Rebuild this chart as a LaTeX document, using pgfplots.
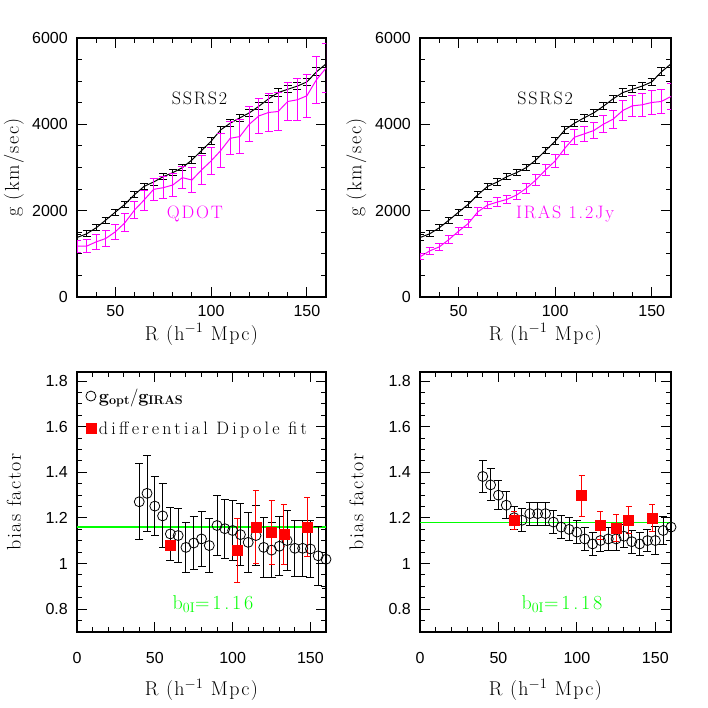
\documentclass[border=0pt]{standalone}
\usepackage{fontspec}
\setmainfont{Latin Modern Roman}
\usepackage{pgfplots}
\usepackage{pgfplotstable}
\pgfplotsset{compat=1.18}
\definecolor{pmag}{rgb}{1,0,1}
\definecolor{pgreen}{rgb}{0,1,0}
\definecolor{pred}{rgb}{1,0,0}
\newfontfamily\tickfont{Liberation Sans}
\newcommand{\tf}{\tickfont\fontsize{16}{18}\selectfont}
\newcommand{\hf}{\fontsize{18}{21}\selectfont\addfontfeatures{LetterSpace=10}}
\newcommand{\legf}{\fontsize{18}{21}\selectfont}
\newcommand{\bfit}{\fontsize{20}{23}\selectfont\addfontfeatures{LetterSpace=14}}
\newcommand{\lf}{\fontsize{20}{23}\selectfont\addfontfeatures{LetterSpace=7}}

% R  g  err
\pgfplotstableread{
30 1378 70
35 1463 70
40 1603 70
45 1781 70
50 1966 70
55 2148 72
60 2369 72
65 2562 72
70 2663 72
75 2787 75
80 2880 75
85 2996 75
90 3174 75
95 3391 75
100 3608 78
105 3871 78
110 4026 78
115 4150 80
120 4266 80
125 4420 80
130 4591 82
135 4735 85
140 4811 85
145 4885 88
150 4982 90
155 5215 92
160 5400 95
}\ssrs

\pgfplotstableread{
30 1177 140
35 1177 150
40 1277 170
45 1355 190
50 1510 180
55 1719 210
60 2013 200
65 2245 230
70 2493 260
75 2532 250
80 2594 260
85 2764 260
90 2710 300
95 2942 330
100 3151 320
105 3391 400
110 3677 380
115 3716 390
120 4003 400
125 4196 400
130 4274 440
135 4297 440
140 4529 450
145 4568 490
150 4661 500
155 5032 550
160 5303 570
}\qdot

\pgfplotstableread{
30 929 70
35 1068 75
40 1161 80
45 1332 85
50 1525 85
55 1703 90
60 1974 90
65 2129 90
70 2199 95
75 2261 100
80 2361 100
85 2516 110
90 2710 120
95 2942 130
100 3151 140
105 3445 150
110 3701 170
115 3778 180
120 3856 190
125 4003 200
130 4119 210
135 4320 230
140 4428 250
145 4452 260
150 4506 270
155 4529 280
160 4645 290
}\iras

% bias from g_opt/g_IRAS, QDOT
\pgfplotstableread{
40 1.271 0.166
45 1.308 0.167
50 1.252 0.130
55 1.209 0.140
60 1.130 0.115
65 1.123 0.118
70 1.071 0.111
75 1.090 0.115
80 1.108 0.122
85 1.079 0.120
90 1.167 0.133
95 1.153 0.130
100 1.145 0.130
105 1.127 0.137
110 1.093 0.133
115 1.123 0.130
120 1.071 0.130
125 1.059 0.119
130 1.076 0.130
135 1.101 0.130
140 1.067 0.122
145 1.067 0.122
150 1.064 0.123
155 1.034 0.130
160 1.019 0.130
}\biasq

\pgfplotstableread{
60 1.079 0.02
103 1.059 0.14
115 1.160 0.16
125 1.138 0.14
133 1.127 0.13
148 1.160 0.13
}\dipq

% bias, IRAS 1.2Jy
\pgfplotstableread{
40 1.382 0.072
45 1.345 0.070
50 1.300 0.063
55 1.256 0.058
60 1.201 0.050
65 1.190 0.050
70 1.219 0.050
75 1.219 0.050
80 1.219 0.050
85 1.182 0.050
90 1.160 0.050
95 1.150 0.050
100 1.138 0.050
105 1.108 0.050
110 1.086 0.050
115 1.101 0.050
120 1.108 0.050
125 1.108 0.050
130 1.120 0.050
135 1.096 0.050
140 1.086 0.050
145 1.101 0.050
150 1.101 0.060
155 1.145 0.060
160 1.160 0.060
}\biasi

\pgfplotstableread{
60 1.190 0.04
103 1.298 0.09
115 1.167 0.06
125 1.157 0.06
133 1.190 0.06
148 1.201 0.06
}\dipi

% constant bias fits
\pgfplotstableread{
0 1.16
160 1.16
}\fitq
\pgfplotstableread{
0 1.18
160 1.18
}\fiti

\pgfplotsset{
  panel/.style={
    scale only axis, clip=true,
    axis line style={line width=1.2pt},
    tick style={line width=1pt, black},
    tick align=inside,
    major tick length=10pt, minor tick length=5pt,
    xtick pos=both, ytick pos=both,
    xticklabel pos=lower, yticklabel pos=left,
    ticklabel style={font=\tf, inner sep=1pt},
    yticklabel style={xshift=-8pt},
    /pgf/number format/assume math mode=true,
    /pgf/number format/1000 sep={},
    scaled ticks=false,
    label style={font=\lf, inner sep=0pt},
    ylabel style={at={(axis description cs:-0.253,0.5)}, anchor=center, rotate=0},
  },
  gpanel/.style={panel,
    width=249pt, height=259pt,
    xmin=30, xmax=160, ymin=0, ymax=6000,
    xtick={50,100,150}, minor xtick={40,60,70,80,90,110,120,130,140,160},
    ytick={0,2000,4000,6000}, minor ytick={500,1000,1500,2500,3000,3500,4500,5000,5500},
    xticklabel style={yshift=-7pt},
    xlabel={R (h$^{-1}$ Mpc)}, ylabel={g (km/sec)},
    xlabel style={at={(axis description cs:0.5,-0.145)}, anchor=center},
  },
  bpanel/.style={panel,
    width=249pt, height=260pt,
    xmin=0, xmax=160, ymin=0.70, ymax=1.84,
    xtick={0,50,100,150}, minor xtick={10,20,30,40,60,70,80,90,110,120,130,140,160},
    ytick={0.8,1,1.2,1.4,1.6,1.8},
    minor ytick={0.75,0.85,0.9,0.95,1.05,1.1,1.15,1.25,1.3,1.35,1.45,1.5,1.55,1.65,1.7,1.75},
    xticklabel style={yshift=-19pt},
    xlabel={R (h$^{-1}$ Mpc)}, ylabel={bias factor},
    xlabel style={at={(axis description cs:0.5,-0.223)}, anchor=center},
  },
  % #1 colour, #2 cap half-width
  ebar/.style 2 args={error bars/.cd, y dir=both, y explicit,
    error bar style={#1, line width=1pt},
    error mark options={rotate=90, mark size=#2, line width=1pt, #1}},
}

\begin{document}
\begin{tikzpicture}
\useasboundingbox (0,0) rectangle (708pt,708pt);

% top left: SSRS2 vs QDOT
\begin{axis}[gpanel, at={(77pt,411pt)}, anchor=south west]
\addplot[black, line width=1pt, mark=none, ebar={black}{4pt}]
  table[x index=0, y index=1, y error index=2] {\ssrs};
\addplot[pmag, line width=1pt, mark=none, ebar={pmag}{4pt}]
  table[x index=0, y index=1, y error index=2] {\qdot};
\node[font=\hf, black] at (axis cs:94,4606) {SSRS2};
\node[font=\hf, pmag] at (axis cs:91.5,1912) {QDOT};
\end{axis}

% top right: SSRS2 vs IRAS 1.2Jy
\begin{axis}[gpanel, width=251pt, at={(420pt,411pt)}, anchor=south west]
\addplot[black, line width=1pt, mark=none, ebar={black}{4pt}]
  table[x index=0, y index=1, y error index=2] {\ssrs};
\addplot[pmag, line width=1pt, mark=none, ebar={pmag}{4pt}]
  table[x index=0, y index=1, y error index=2] {\iras};
\node[font=\hf, black] at (axis cs:94.8,4606) {SSRS2};
\node[font=\hf, pmag, anchor=west] at (axis cs:78,1912) {IRAS 1.2Jy};
\end{axis}

% bottom left
\begin{axis}[bpanel, at={(77pt,76pt)}, anchor=south west,
  legend style={at={(axis cs:5.6,1.777)}, anchor=north west, draw=none, fill=none,
    font=\legf, row sep=14pt, inner sep=0pt,
    /tikz/every odd column/.append style={column sep=1pt}},
  legend cell align=left]
\addplot[draw=pgreen, color=pgreen, line width=1.5pt, mark=none, forget plot]
  table[x index=0, y index=1] {\fitq};
\addplot[only marks, mark=o, mark size=5pt, black, line width=0.8pt, ebar={black}{4pt}]
  table[x index=0, y index=1, y error index=2] {\biasq};
\addlegendentry{\textbf{g}$_{\mathbf{opt}}$/\textbf{g}$_{\mathbf{IRAS}}$}
\addplot[only marks, mark=square*, mark size=5pt, pred, ebar={pred}{3pt}]
  table[x index=0, y index=1, y error index=2] {\dipq};
\addlegendentry{\addfontfeatures{LetterSpace=18}differential Dipole fit}
\node[font=\bfit, pgreen] at (axis cs:87.4,0.82) {b$_{\mathrm{0I}}$=1.16};
\end{axis}

% bottom right
\begin{axis}[bpanel, width=251pt, at={(420pt,76pt)}, anchor=south west]
\addplot[draw=pgreen, color=pgreen, line width=1.5pt, mark=none]
  table[x index=0, y index=1] {\fiti};
\addplot[only marks, mark=o, mark size=5pt, black, line width=0.8pt, ebar={black}{4pt}]
  table[x index=0, y index=1, y error index=2] {\biasi};
\addplot[only marks, mark=square*, mark size=5pt, pred, ebar={pred}{3pt}]
  table[x index=0, y index=1, y error index=2] {\dipi};
\node[font=\bfit, pgreen] at (axis cs:90.5,0.82) {b$_{\mathrm{0I}}$=1.18};
\end{axis}
\end{tikzpicture}
\end{document}
